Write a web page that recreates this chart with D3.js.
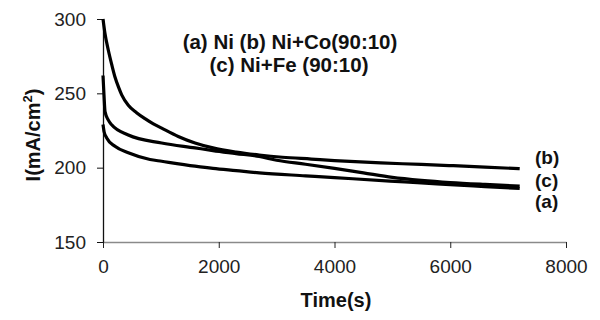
<!DOCTYPE html>
<html>
<head>
<meta charset="utf-8">
<script src="https://cdn.jsdelivr.net/npm/d3@7"></script>
<style>
  body { margin: 0; background: #fff; }
  svg { display: block; font-family: "Liberation Sans", Arial, sans-serif; }
</style>
</head>
<body>
<div id="chart"></div>
<script>
// time (s) and current density (mA/cm2)
var timeA = [0, 20, 64, 207, 437, 812, 1014, 1590, 1900, 2300, 2700, 3500, 4000, 4960, 5500, 6000, 6600, 7200];
var curA  = [229, 224, 220, 214.4, 210, 205.5, 204.3, 201, 199.5, 198, 196.5, 194.5, 193.3, 191, 189.8, 188.6, 187.3, 186];

var timeB = [0, 35, 92, 150, 207, 270, 323, 437, 580, 725, 870, 1014, 1300, 1590, 1900, 2300, 2700, 3100, 3600, 4000, 4800, 5500, 6000, 6600, 7200];
var curB  = [300, 290, 279, 269.5, 261, 254, 249, 242, 237, 233, 229.5, 226.6, 221, 216.6, 213.3, 210.5, 208.5, 207, 205.8, 204.8, 203.2, 202.2, 201.4, 200.4, 199.3];

var timeC = [0, 17, 35, 92, 150, 437, 1014, 1590, 1900, 2300, 2700, 3000, 3500, 4000, 4500, 5000, 5500, 6000, 6600, 7200];
var curC  = [262, 249, 237.7, 232, 228.8, 222, 216.6, 213.3, 211.5, 209.5, 207.5, 205, 202.3, 199.5, 196.5, 193.5, 191.5, 190, 188.7, 187.6];

var xTicks = [0, 2000, 4000, 6000, 8000];
var yTicks = [150, 200, 250, 300];
var legendLines = ['(a) Ni (b) Ni+Co(90:10)', '(c) Ni+Fe (90:10)'];
var endLabels = ['(b)', '(c)', '(a)'];

var width = 600, height = 320;

var svg = d3.select('#chart')
  .append('svg')
  .attr('width', width)
  .attr('height', height);

var x = d3.scaleLinear().domain([0, 8000]).range([103, 566]);
var y = d3.scaleLinear().domain([150, 300]).range([242, 19]);

// x axis (grey line, dark ticks)
var xAxis = svg.append('g')
  .attr('transform', 'translate(0,' + y(150) + ')')
  .call(d3.axisBottom(x).tickValues(xTicks).tickFormat(d3.format('d'))
    .tickSize(6).tickPadding(12).tickSizeOuter(0));
xAxis.select('.domain').attr('stroke', '#8a8a8a').attr('stroke-width', 1.5);
xAxis.selectAll('.tick line').attr('stroke', '#222');
xAxis.selectAll('text')
  .attr('fill', '#222')
  .style('font-size', '19px');

var yAxis = svg.append('g')
  .attr('transform', 'translate(' + x(0) + ',0)')
  .call(d3.axisLeft(y).tickValues(yTicks).tickSize(6).tickPadding(11).tickSizeOuter(0));
yAxis.select('.domain').attr('stroke', '#111').attr('stroke-width', 1.3);
yAxis.selectAll('.tick line').attr('stroke', '#111');
yAxis.selectAll('text')
  .attr('fill', '#222')
  .style('font-size', '19px');

var line = d3.line()
  .x(function (d) { return x(d[0]); })
  .y(function (d) { return y(d[1]); })
  .curve(d3.curveMonotoneX);

[[timeA, curA], [timeB, curB], [timeC, curC]].forEach(function (s) {
  svg.append('path')
    .datum(d3.zip(s[0], s[1]))
    .attr('d', line)
    .attr('fill', 'none')
    .attr('stroke', '#000')
    .attr('stroke-width', 3.2)
    .attr('stroke-linejoin', 'round');
});

// legend text inside the plot
svg.selectAll('.legend')
  .data(legendLines)
  .enter()
  .append('text')
  .attr('x', function (d, i) { return i === 0 ? 290 : 289; })
  .attr('y', function (d, i) { return 49 + i * 23; })
  .attr('text-anchor', 'middle')
  .style('font-size', '20.5px')
  .style('font-weight', 'bold')
  .attr('fill', '#111')
  .text(function (d) { return d; });

// end labels
var labelY = [157, 180, 201];
svg.selectAll('.endlabel')
  .data(endLabels)
  .enter()
  .append('text')
  .attr('x', 535)
  .attr('y', function (d, i) { return labelY[i] + 7; })
  .style('font-size', '19px')
  .style('font-weight', 'bold')
  .attr('fill', '#111')
  .text(function (d) { return d; });

// axis titles
svg.append('text')
  .attr('x', 336)
  .attr('y', 307)
  .attr('text-anchor', 'middle')
  .style('font-size', '20px')
  .style('font-weight', 'bold')
  .attr('fill', '#111')
  .text('Time(s)');

var yt = svg.append('text')
  .attr('transform', 'translate(40,135) rotate(-90)')
  .attr('text-anchor', 'middle')
  .style('font-size', '20px')
  .style('font-weight', 'bold')
  .attr('fill', '#111');
yt.append('tspan').text('I(mA/cm');
yt.append('tspan').attr('dy', -8).style('font-size', '13px').text('2');
yt.append('tspan').attr('dy', 8).text(')');
</script>
</body>
</html>
